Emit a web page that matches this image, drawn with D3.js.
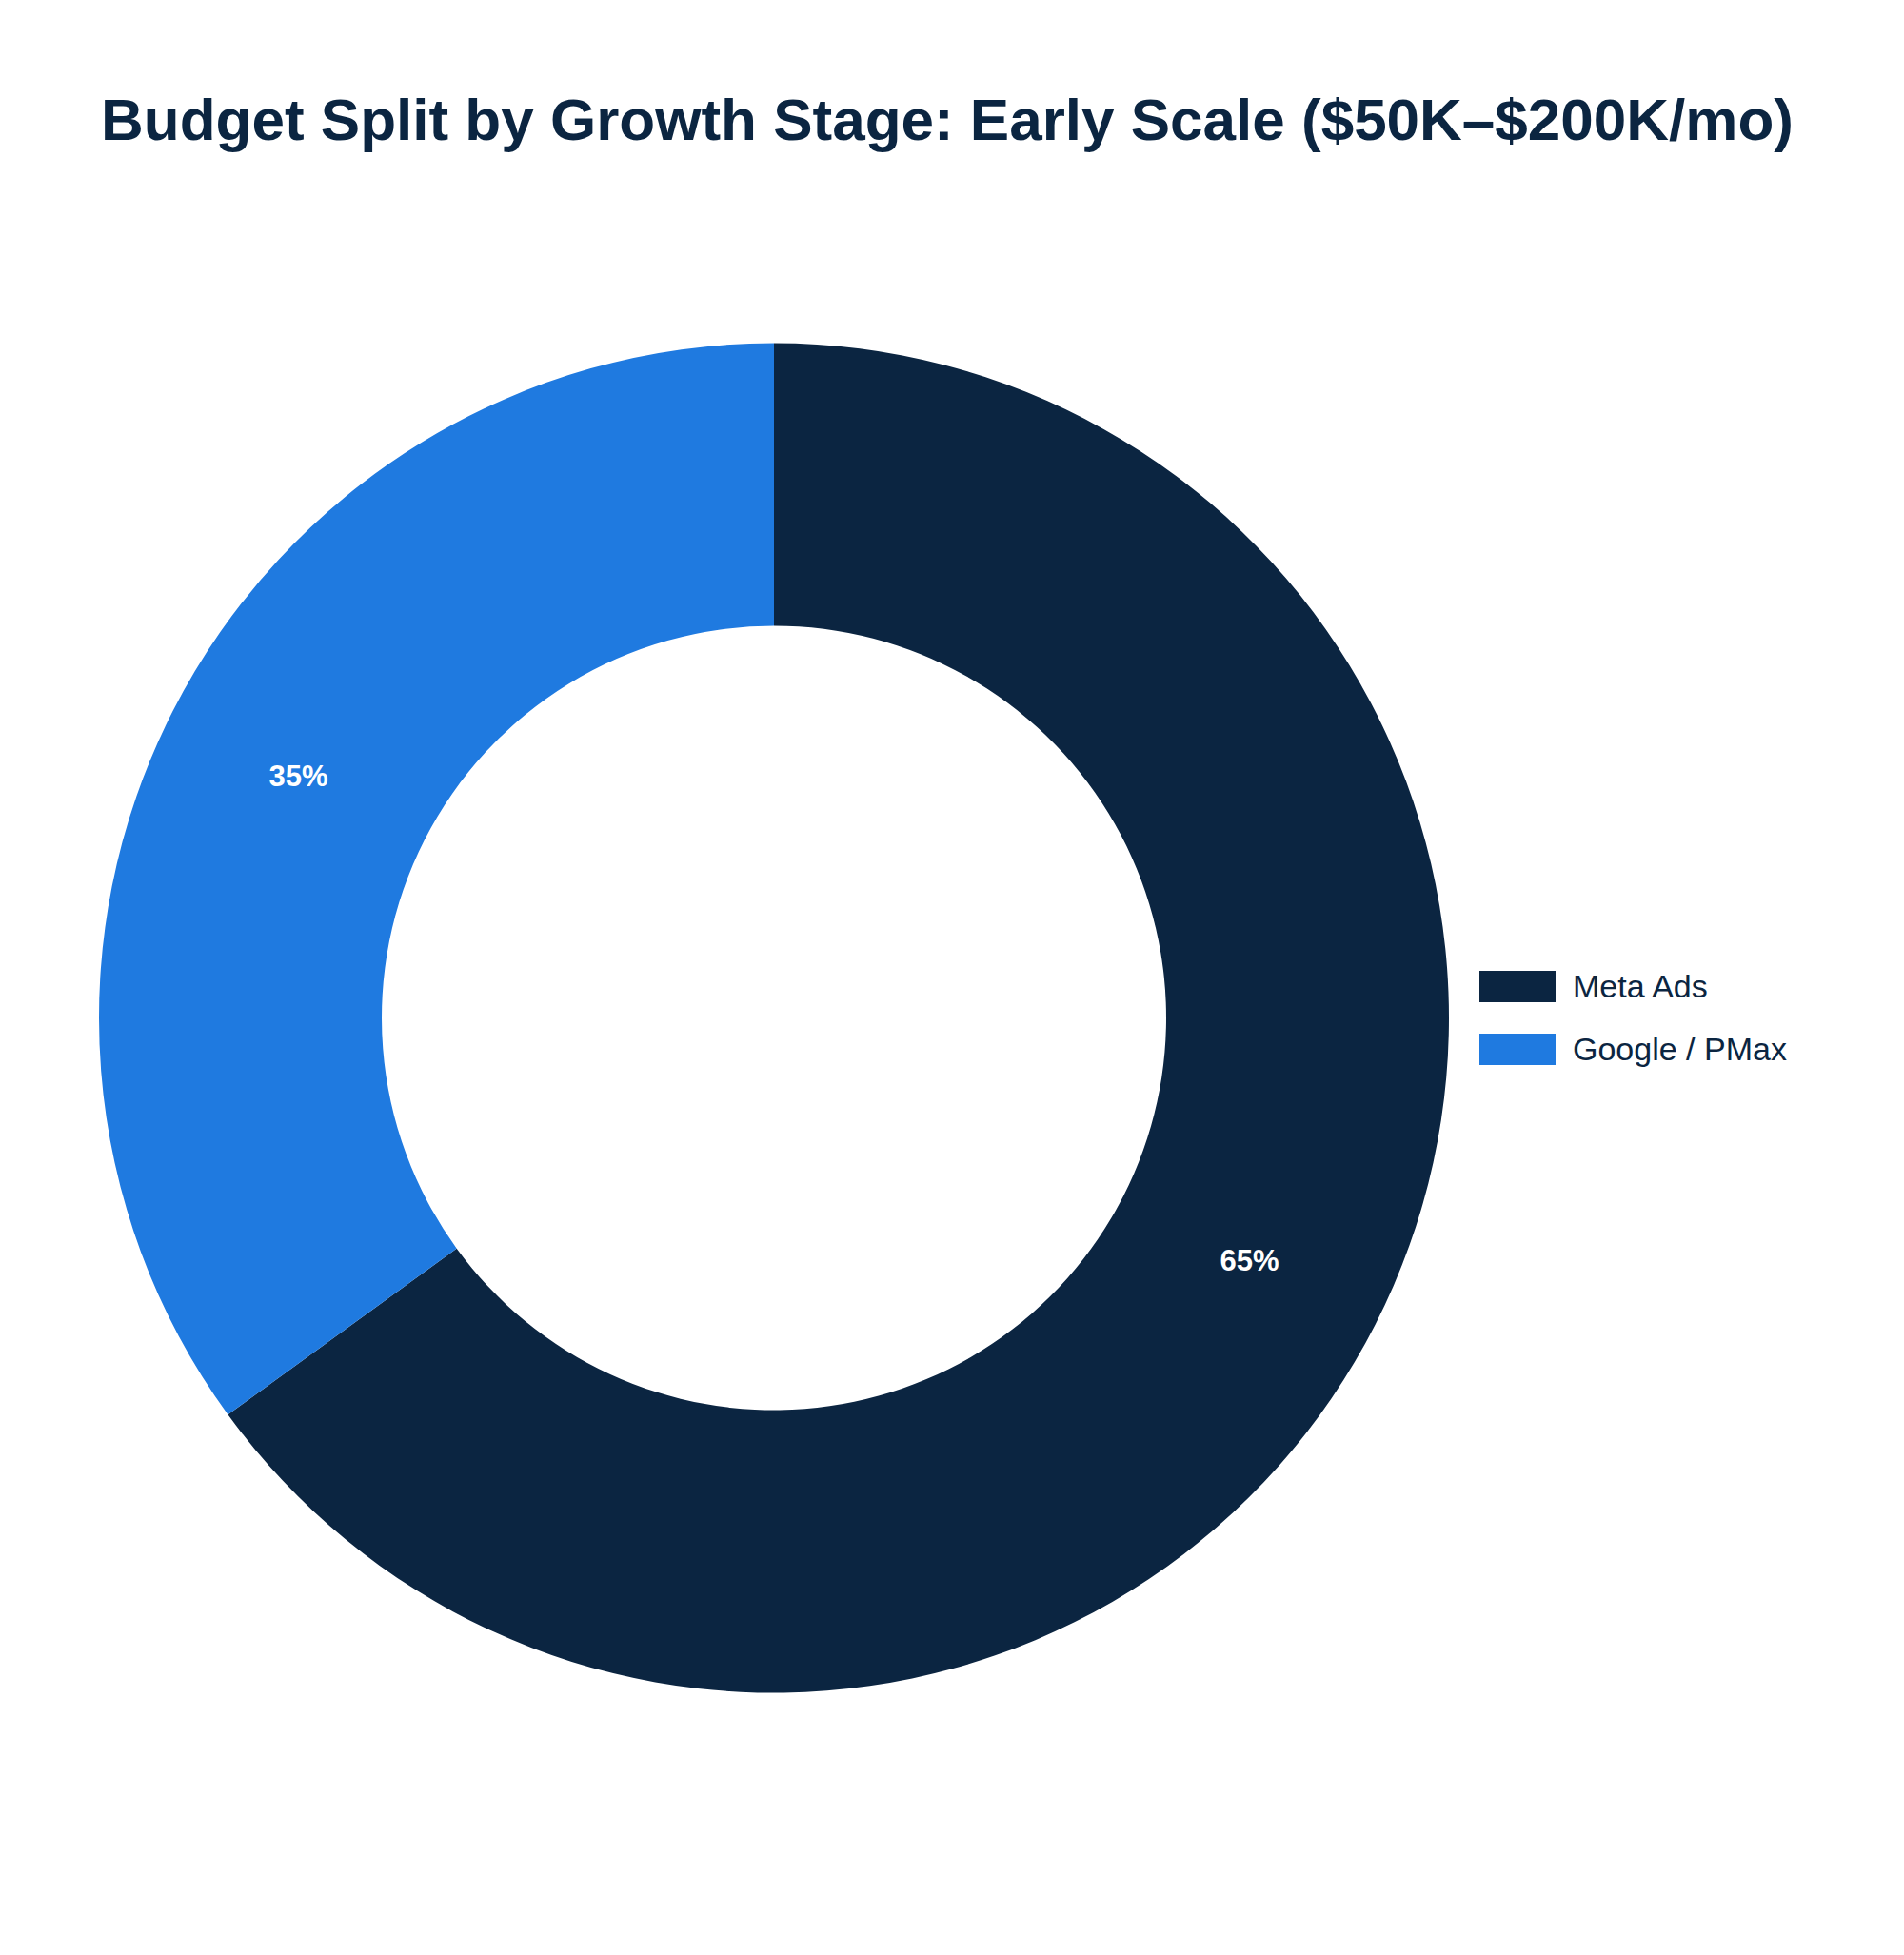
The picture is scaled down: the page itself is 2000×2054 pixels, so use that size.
<!DOCTYPE html>
<html><head><meta charset="utf-8">
<script src="https://cdn.jsdelivr.net/npm/d3@7"></script>
<style>body{margin:0;background:#fff;}</style>
</head><body>
<svg id="c" width="2000" height="2054"></svg>
<script>
const categories = ["Meta Ads", "Google / PMax"];
const values = [65, 35];
const colors = ["#0b2541", "#1f7ae0"];
const title = "Budget Split by Growth Stage: Early Scale ($50K–$200K/mo)";

const svg = d3.select("#c");
const font = "'Liberation Sans', Arial, Helvetica, sans-serif";
svg.append("rect").attr("width",2000).attr("height",2054).attr("fill","#fff");

svg.append("text").attr("x",995).attr("y",147).attr("text-anchor","middle")
  .attr("font-family",font).attr("font-weight","bold").attr("font-size",62)
  .attr("fill","#0b2541").text(title);

const cx = 813, cy = 1069.5, R = 709, r0 = 412;
const data = categories.map((c,i)=>({cat:c, v:values[i], col:colors[i]}));
const pie = d3.pie().value(d=>d.v).sort(null);
const arc = d3.arc().innerRadius(r0).outerRadius(R);
const labelArc = d3.arc().innerRadius((R+r0)/2).outerRadius((R+r0)/2);
const g = svg.append("g").attr("transform",`translate(${cx},${cy})`);
const arcs = pie(data);
g.selectAll("path").data(arcs).join("path").attr("d",arc).attr("fill",d=>d.data.col);
g.selectAll("text").data(arcs).join("text")
  .attr("transform",d=>`translate(${labelArc.centroid(d)})`)
  .attr("text-anchor","middle").attr("dy","0.35em")
  .attr("font-family",font).attr("font-weight","bold").attr("font-size",31)
  .attr("fill","#fff").text(d=>d3.format(".0f")(d.data.v)+"%");

const lg = svg.append("g");
data.forEach((d,i)=>{
  const y = 1020 + i*66;
  lg.append("rect").attr("x",1554).attr("y",y).attr("width",80).attr("height",33).attr("fill",d.col);
  lg.append("text").attr("x",1652).attr("y",y+16).attr("dy","0.35em")
    .attr("font-family",font).attr("font-size",34).attr("fill","#0b2541").text(d.cat);
});
</script>
</body></html>
